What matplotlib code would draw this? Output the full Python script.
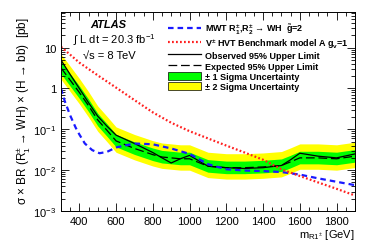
import numpy as np
import matplotlib
matplotlib.use("Agg")
import matplotlib.pyplot as plt
from matplotlib.ticker import FixedLocator, FuncFormatter, LogLocator, NullFormatter, MultipleLocator
from matplotlib.lines import Line2D
from matplotlib.patches import Patch, Rectangle
from matplotlib.legend_handler import HandlerPatch

plt.rcParams["font.family"] = ["Liberation Sans", "DejaVu Sans"]
plt.rcParams["mathtext.fontset"] = "custom"
plt.rcParams["mathtext.rm"] = "Liberation Sans"
plt.rcParams["mathtext.it"] = "Liberation Sans:italic"
plt.rcParams["mathtext.bf"] = "Liberation Sans:bold"

# --- 値は図から読み取り --- #
mass_lim = [300, 350, 400, 450, 500, 550, 600, 700, 800, 850, 900, 950, 1000,
            1100, 1200, 1300, 1400, 1500, 1550, 1600, 1700, 1800, 1900]
observed = [5.0, 2.2, 1.0, 0.45, 0.21, 0.12, 0.072, 0.045, 0.027, 0.02, 0.015, 0.019, 0.023,
            0.0125, 0.0115, 0.011, 0.0115, 0.013, 0.018, 0.026, 0.022, 0.02, 0.025]
expected = [3.2, 1.6, 0.8, 0.38, 0.17, 0.095, 0.052, 0.034, 0.024, 0.021, 0.02, 0.019, 0.019,
            0.0125, 0.0115, 0.0115, 0.012, 0.013, 0.016, 0.02, 0.02, 0.019, 0.022]
g1_up = [1.45] * len(mass_lim)
g1_dn = [1.4] * len(mass_lim)
g2_up = [2.2] * len(mass_lim)
g2_dn = [1.9] * len(mass_lim)

mass_mwt = [300, 320, 350, 380, 400, 430, 470, 510, 550, 600, 700, 800, 900, 1000,
            1100, 1200, 1300, 1400, 1500, 1600, 1700, 1800, 1900]
xs_mwt = [1.0, 0.5, 0.22, 0.11, 0.075, 0.045, 0.031, 0.026, 0.028, 0.036, 0.045, 0.043,
          0.034, 0.025, 0.014, 0.0105, 0.0098, 0.0095, 0.009, 0.0078, 0.0063, 0.0052, 0.0043]

mass_hvt = [300, 400, 500, 600, 700, 800, 900, 1000, 1100, 1200, 1300, 1400, 1500,
            1600, 1700, 1800, 1900]
xs_hvt = [10.5, 4.3, 2.1, 1.05, 0.52, 0.26, 0.145, 0.09, 0.06, 0.04, 0.027, 0.018,
          0.0105, 0.0072, 0.005, 0.0035, 0.0024]

fig = plt.figure(figsize=(3.74, 2.53), dpi=100)
ax = fig.add_axes([0.163, 0.162, 0.786, 0.787])

m = np.array(mass_lim)
e = np.array(expected)
ax.fill_between(m, e / np.array(g2_dn), e * np.array(g2_up), color="#ffff00", lw=0)
ax.fill_between(m, e / np.array(g1_dn), e * np.array(g1_up), color="#00ff00", lw=0)
ax.plot(mass_lim, observed, color="black", lw=0.9)
ax.plot(mass_lim, expected, color="black", lw=0.9, dashes=(7, 3))
ax.plot(mass_mwt, xs_mwt, color="#1a1aff", lw=1.6, dashes=(2.5, 1.8))
ax.plot(mass_hvt, xs_hvt, color="#ff2020", lw=1.6, dashes=(0.8, 1.0))

ax.set_yscale("log")
ax.set_xlim(300, 1900)
ax.set_ylim(1e-3, 75)

def yfmt(v, pos):
    e = int(round(np.log10(v)))
    if e == 0:
        return "1"
    if e == 1:
        return "10"
    return r"$\mathregular{10^{%d}}$" % e

ax.yaxis.set_major_locator(FixedLocator([1e-3, 1e-2, 1e-1, 1, 10]))
ax.yaxis.set_major_formatter(FuncFormatter(yfmt))
ax.yaxis.set_minor_locator(LogLocator(base=10, subs=np.arange(2, 10), numticks=20))
ax.yaxis.set_minor_formatter(NullFormatter())
ax.xaxis.set_major_locator(FixedLocator([400, 600, 800, 1000, 1200, 1400, 1600, 1800]))
ax.xaxis.set_minor_locator(MultipleLocator(50))
ax.tick_params(which="both", direction="in", top=True, right=True, labelsize=8, width=0.6)
ax.tick_params(which="major", length=6)
ax.tick_params(which="minor", length=3)
for s in ax.spines.values():
    s.set_linewidth(0.7)

ax.set_ylabel(r"σ × BR (R$_1^{\mathregular{±}}$ → WH) × (H → bb)  [pb]",
              fontsize=8.5, loc="top")
ax.yaxis.set_label_coords(-0.1, 0.98)
ax.set_xlabel(r"m$_{\mathregular{R1^{±}}}$ [GeV]", fontsize=8, loc="right", labelpad=1)

ax.text(0.1, 0.925, "ATLAS", transform=ax.transAxes, fontsize=8, fontweight="bold", style="italic")
ax.text(0.04, 0.845, r"$\int$ L dt = 20.3 fb$^{\mathregular{-1}}$", transform=ax.transAxes, fontsize=8)
ax.text(0.075, 0.77, "√s = 8 TeV", transform=ax.transAxes, fontsize=8)

# --- 凡例 --- #
def small_rect(legend, orig_handle, xdescent, ydescent, width, height, fontsize):
    return Rectangle((-xdescent, -ydescent + height * 0.12), width, height * 0.76)

handles = [
    Line2D([], [], color="#1a1aff", lw=1.6, dashes=(2.5, 1.8)),
    Line2D([], [], color="#ff2020", lw=1.6, dashes=(0.8, 1.0)),
    Line2D([], [], color="black", lw=0.9),
    Line2D([], [], color="black", lw=0.9, dashes=(7, 3)),
    Patch(facecolor="#00ff00", edgecolor="black", lw=0.5),
    Patch(facecolor="#ffff00", edgecolor="black", lw=0.5),
]
labels = [
    r"MWT R$_\mathbf{1}^\mathbf{±}$,R$_\mathbf{2}^\mathbf{±}$ → WH  $\tilde{\mathbf{g}}$=2",
    r"V$^\mathbf{±}$ HVT Benchmark model A g$_\mathbf{v}$=1",
    "Observed 95% Upper Limit",
    "Expected 95% Upper Limit",
    "± 1 Sigma Uncertainty",
    "± 2 Sigma Uncertainty",
]
leg = ax.legend(handles, labels, loc="upper left", bbox_to_anchor=(0.345, 0.977), frameon=False,
                prop={"size": 6.5, "weight": "bold"}, handlelength=3.7, handletextpad=0.4,
                handleheight=1.3, labelspacing=0.03, borderaxespad=0.2,
                handler_map={Patch: HandlerPatch(patch_func=small_rect)})

fig.savefig("out.png", dpi=100)
